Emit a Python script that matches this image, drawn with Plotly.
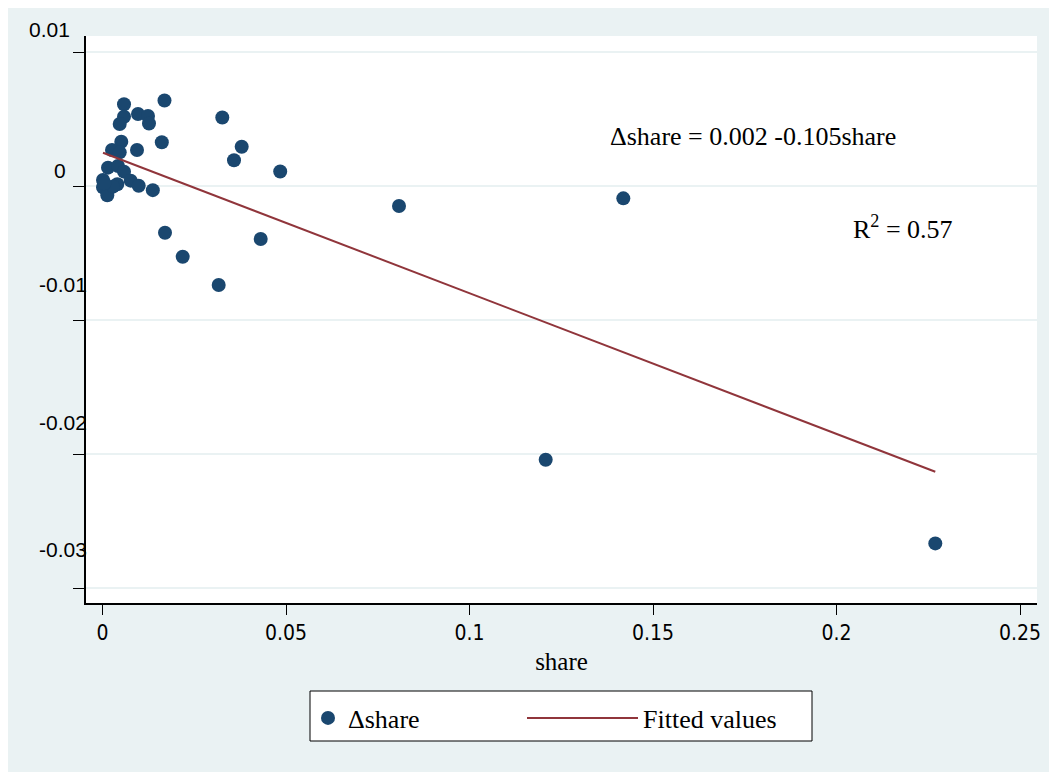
import plotly.graph_objects as go

# ---- data ----
share = [0.00586, 0.01689, 0.00967, 0.00586, 0.01240, 0.03264, 0.00469, 0.01267,
         0.00512, 0.01616, 0.03793, 0.00259, 0.00469, 0.00940, 0.03583, 0.04842,
         0.00150, 0.00422, 0.00586, 0.00014, 0.00403, 0.00768, 0.00986, 0.00014,
         0.01371, 0.00131, 0.00286, 0.00050, 0.01703, 0.04311, 0.02185, 0.03166,
         0.08079, 0.14191, 0.12076, 0.22692]
dshare = [0.00610, 0.00638, 0.00537, 0.00517, 0.00522, 0.00511, 0.00463, 0.00466,
          0.00330, 0.00326, 0.00293, 0.00269, 0.00251, 0.00269, 0.00192, 0.00108,
          0.00137, 0.00149, 0.00107, 0.00045, 0.00013, 0.00040, 0.00002, -0.00010,
          -0.00031, -0.00069, -0.00005, 0.00020, -0.00349, -0.00396, -0.00528, -0.00739,
          -0.00149, -0.00092, -0.02043, -0.02667]
fit_intercept = 0.0025
fit_slope = -0.105

x_ticks = [0, 0.05, 0.1, 0.15, 0.2, 0.25]
x_tick_labels = ["0", "0.05", "0.1", "0.15", "0.2", "0.25"]
y_ticks = [0.01, 0, -0.01, -0.02, -0.03]
y_tick_labels = ["0.01", "0", "-0.01", "-0.02", "-0.03"]
equation_text = "\u0394share = 0.002 -0.105share"
r2_text = "R<sup>2</sup> = 0.57"

# ---- styles ----
NAVY = "#1a476f"
MAROON = "#90353b"
BG = "#eaf2f3"
SERIF = "Liberation Serif, Times New Roman, serif"
SANS = "Liberation Sans, Arial, sans-serif"
NARROW = "Liberation Sans Narrow, Arial Narrow, DejaVu Sans Condensed, sans-serif"

fit_x = [min(share), max(share)]
fit_y = [fit_intercept + fit_slope * v for v in fit_x]

fig = go.Figure()
fig.add_trace(go.Scatter(
    x=share, y=dshare, mode="markers", name="\u0394share",
    marker=dict(color=NAVY, size=14, line=dict(width=0)),
    legend="legend",
))
fig.add_trace(go.Scatter(
    x=fit_x, y=fit_y, mode="lines", name="Fitted values",
    line=dict(color=MAROON, width=2),
    legend="legend2",
))

# page has an 8px body margin: figure coords = screen coords - 8
OFF = 8
W, H = 1049, 764
L, T = 86 - OFF, 36 - OFF
R = W - (1037 - OFF)
B = H - (603 - OFF)
pw, ph = W - L - R, H - T - B


def px_x(p):  # screen x -> paper
    return (p - OFF - L) / pw


def px_y(p):  # screen y -> paper
    return (H - B - (p - OFF)) / ph


# y tick labels (rendered offset as in the reference)
y_label_shift = [23, 16, 36, 32, 39]
y_label_xshift = [-14, -18, 3, 3, 3]
annotations = []
for v, lab, ys, xs in zip(y_ticks, y_tick_labels, y_label_shift, y_label_xshift):
    annotations.append(dict(
        x=0, xref="paper", y=v, yref="y", text=lab, showarrow=False,
        xanchor="right", yanchor="middle", xshift=xs, yshift=ys,
        font=dict(family=SANS, size=21, color="black"),
    ))
annotations.append(dict(
    x=0.1378, y=0.00366, xref="x", yref="y", text=equation_text, showarrow=False,
    xanchor="left", yanchor="middle", font=dict(family=SERIF, size=26, color="black"),
))
annotations.append(dict(
    x=0.2040, y=-0.00313, xref="x", yref="y", text=r2_text, showarrow=False,
    xanchor="left", yanchor="middle", font=dict(family=SERIF, size=26, color="black"),
))

shapes = [
    # legend box
    dict(type="rect", xref="paper", yref="paper",
         x0=px_x(310), x1=px_x(812), y0=px_y(741), y1=px_y(691),
         fillcolor="white", line=dict(color="black", width=1), layer="above"),
]

fig.update_layout(
    width=W, height=H, autosize=False,
    margin=dict(l=L, r=R, t=T, b=B),
    paper_bgcolor=BG, plot_bgcolor="white",
    showlegend=True,
    legend=dict(
        x=px_x(308), xanchor="left", y=px_y(718), yanchor="middle",
        orientation="h", bgcolor="rgba(0,0,0,0)", borderwidth=0,
        font=dict(family=SERIF, size=26, color="black"), itemwidth=30,
    ),
    legend2=dict(
        x=px_x(522), xanchor="left", y=px_y(718), yanchor="middle",
        orientation="h", bgcolor="rgba(0,0,0,0)", borderwidth=0,
        font=dict(family=SERIF, size=26, color="black"), itemwidth=111,
    ),
    annotations=annotations,
    shapes=shapes,
    xaxis=dict(
        range=[(86 - 102.5) / 3670, (1037 - 102.5) / 3670],
        tickvals=x_ticks, ticktext=x_tick_labels,
        ticks="outside", ticklen=10, tickwidth=1.2, tickcolor="black",
        showline=True, linecolor="black", linewidth=1.5,
        showgrid=False, zeroline=False,
        tickfont=dict(family=NARROW, size=21, color="black"),
        title=dict(text="share", font=dict(family=SERIF, size=25, color="black"), standoff=9),
    ),
    yaxis=dict(
        range=[-(603 - 186) / 13400, (186 - 36) / 13400],
        tickvals=y_ticks, showticklabels=False,
        ticks="outside", ticklen=11, tickwidth=1.2, tickcolor="black",
        showline=True, linecolor="black", linewidth=1.5,
        showgrid=True, gridcolor=BG, gridwidth=2, zeroline=False,
    ),
)

fig.write_html("out.html")
